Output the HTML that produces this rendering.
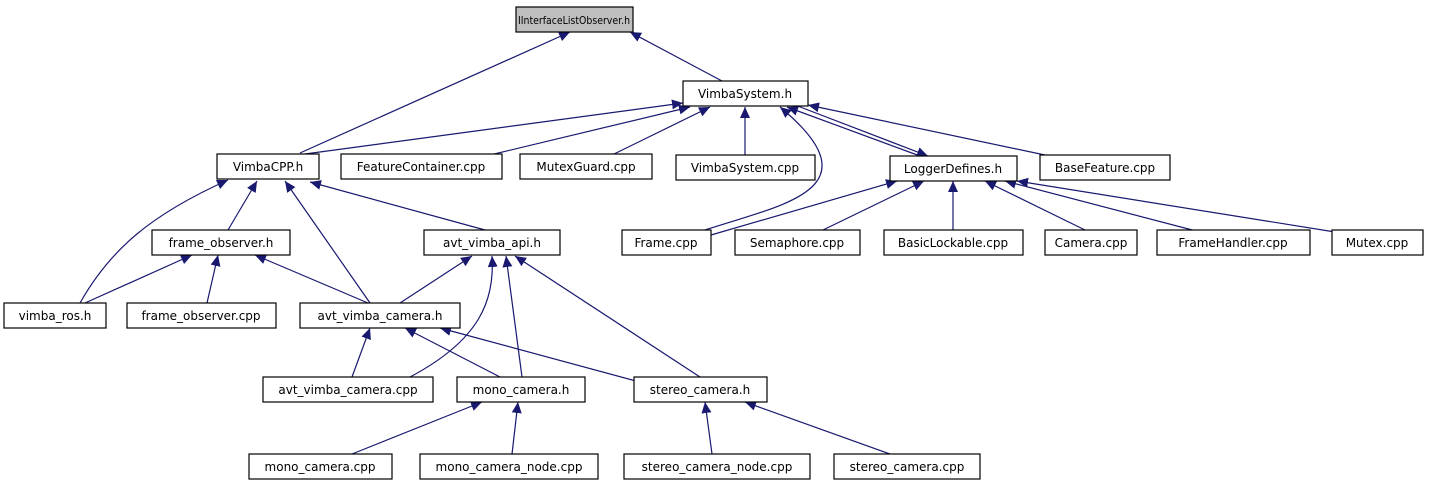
<html><head><style>
body{margin:0;background:#fff;}
svg text{font-family:"DejaVu Sans","Liberation Sans",sans-serif;font-size:12px;fill:#000;text-anchor:middle;}
</style></head><body>
<svg width="1429" height="485" xmlns="http://www.w3.org/2000/svg">
<defs><marker id="a" markerWidth="12" markerHeight="10" refX="11" refY="5" orient="auto" markerUnits="userSpaceOnUse"><path d="M0,0 L11,5 L0,10 z" fill="#191970"/></marker></defs>
<g stroke="#191970" stroke-width="1.2" fill="none" marker-end="url(#a)">
<line x1="300" y1="153" x2="570" y2="32"/>
<line x1="722" y1="81" x2="630" y2="32"/>
<line x1="305" y1="154" x2="683" y2="103"/>
<line x1="490" y1="155" x2="690" y2="107"/>
<line x1="612" y1="155" x2="710" y2="107"/>
<line x1="745" y1="155" x2="745" y2="107"/>
<path d="M705,230 C780,205 880,190 780,107"/>
<line x1="920" y1="156" x2="787" y2="107"/>
<line x1="795" y1="105" x2="928" y2="156"/>
<line x1="1045" y1="155" x2="808" y2="105"/>
<line x1="711" y1="235" x2="897" y2="181"/>
<line x1="823" y1="230" x2="924" y2="181"/>
<line x1="953" y1="230" x2="953" y2="181"/>
<line x1="1085" y1="230" x2="985" y2="181"/>
<line x1="1200" y1="232" x2="1005" y2="181"/>
<line x1="1335" y1="232" x2="1017" y2="181"/>
<line x1="228" y1="230" x2="257" y2="181"/>
<path d="M80,303 C110,250 150,215 228,180"/>
<line x1="370" y1="303" x2="285" y2="181"/>
<line x1="485" y1="230" x2="310" y2="182"/>
<line x1="85" y1="303" x2="192" y2="255"/>
<line x1="207" y1="303" x2="218" y2="255"/>
<line x1="368" y1="303" x2="255" y2="255"/>
<line x1="400" y1="303" x2="472" y2="256"/>
<path d="M410,377 C480,340 495,300 492,256"/>
<line x1="522" y1="377" x2="506" y2="256"/>
<line x1="700" y1="377" x2="515" y2="256"/>
<line x1="352" y1="377" x2="370" y2="328"/>
<line x1="500" y1="377" x2="405" y2="328"/>
<line x1="636" y1="381" x2="440" y2="328"/>
<line x1="352" y1="454" x2="482" y2="402"/>
<line x1="512" y1="454" x2="518" y2="402"/>
<line x1="712" y1="454" x2="705" y2="402"/>
<line x1="890" y1="454" x2="745" y2="402"/>
</g>
<g stroke="#000" stroke-width="1.2" fill="#fff">
<rect x="516" y="7" width="117" height="25" fill="#bfbfbf"/>
<rect x="683" y="81" width="125" height="25"/>
<rect x="217" y="154" width="102" height="25"/>
<rect x="341" y="154" width="161" height="25"/>
<rect x="520" y="154" width="132" height="25"/>
<rect x="676" y="155" width="139" height="25"/>
<rect x="890" y="156" width="127" height="25"/>
<rect x="1040" y="155" width="130" height="25"/>
<rect x="152" y="230" width="138" height="25"/>
<rect x="424" y="230" width="136" height="25"/>
<rect x="622" y="230" width="89" height="25"/>
<rect x="735" y="230" width="125" height="25"/>
<rect x="884" y="230" width="139" height="25"/>
<rect x="1045" y="230" width="92" height="25"/>
<rect x="1157" y="230" width="153" height="25"/>
<rect x="1332" y="230" width="91" height="25"/>
<rect x="4" y="303" width="102" height="25"/>
<rect x="127" y="303" width="149" height="25"/>
<rect x="300" y="303" width="160" height="25"/>
<rect x="263" y="377" width="170" height="25"/>
<rect x="457" y="377" width="128" height="25"/>
<rect x="634" y="377" width="133" height="25"/>
<rect x="249" y="454" width="143" height="25"/>
<rect x="420" y="454" width="178" height="25"/>
<rect x="624" y="454" width="186" height="25"/>
<rect x="834" y="454" width="146" height="25"/>
</g>
<g>
<text x="574" y="24" style="font-size:11px" textLength="112" lengthAdjust="spacingAndGlyphs">IInterfaceListObserver.h</text>
<text x="745" y="98">VimbaSystem.h</text>
<text x="268" y="171">VimbaCPP.h</text>
<text x="421" y="171">FeatureContainer.cpp</text>
<text x="586" y="171">MutexGuard.cpp</text>
<text x="745" y="172">VimbaSystem.cpp</text>
<text x="953" y="173">LoggerDefines.h</text>
<text x="1105" y="172">BaseFeature.cpp</text>
<text x="221" y="247">frame_observer.h</text>
<text x="492" y="247">avt_vimba_api.h</text>
<text x="666" y="247">Frame.cpp</text>
<text x="797" y="247">Semaphore.cpp</text>
<text x="953" y="247">BasicLockable.cpp</text>
<text x="1091" y="247">Camera.cpp</text>
<text x="1233" y="247">FrameHandler.cpp</text>
<text x="1377" y="247">Mutex.cpp</text>
<text x="55" y="320">vimba_ros.h</text>
<text x="201" y="320">frame_observer.cpp</text>
<text x="380" y="320">avt_vimba_camera.h</text>
<text x="348" y="394">avt_vimba_camera.cpp</text>
<text x="521" y="394">mono_camera.h</text>
<text x="700" y="394">stereo_camera.h</text>
<text x="320" y="471">mono_camera.cpp</text>
<text x="509" y="471">mono_camera_node.cpp</text>
<text x="717" y="471">stereo_camera_node.cpp</text>
<text x="907" y="471">stereo_camera.cpp</text>
</g>
</svg>
</body></html>
